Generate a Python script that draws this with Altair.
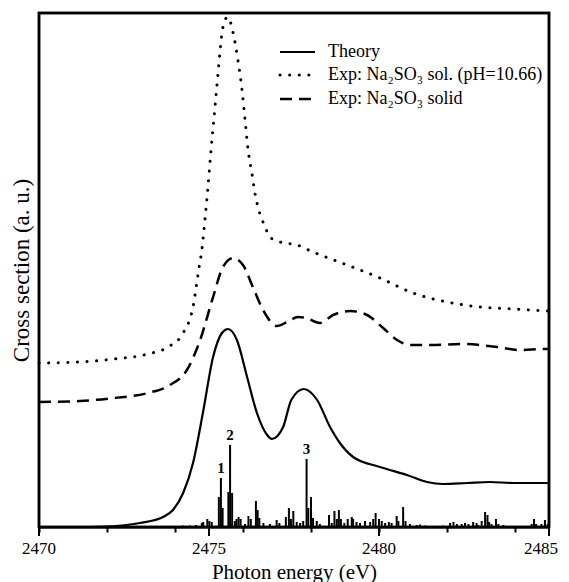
import altair as alt
import pandas as pd

# ---------------- data ----------------
theory_ev = [2470.0, 2471.0, 2471.99, 2472.97, 2473.65, 2473.94, 2474.24, 2474.53, 2474.82,
             2475.12, 2475.38, 2475.56, 2475.82, 2476.12, 2476.41, 2476.71, 2476.85, 2477.18,
             2477.42, 2477.79, 2478.18, 2478.56, 2478.85, 2479.24, 2480.03, 2480.82, 2481.41,
             2481.88, 2482.59, 2483.26, 2483.94, 2485.0]
theory_val = [0, 0, 0.5, 4, 10, 17, 34, 64, 114,
              170, 194, 198, 187, 150, 114, 92, 88, 100,
              127, 138, 127, 100, 84, 70, 60, 52, 45,
              43, 44, 45, 44, 44]

solid_ev = [2470.0, 2471.2, 2472.2, 2473.2, 2473.85, 2474.35, 2474.74, 2475.12, 2475.41,
            2475.71, 2476.0, 2476.29, 2476.59, 2477.0, 2477.3, 2477.62, 2477.85, 2478.26,
            2478.65, 2479.15, 2479.65, 2480.12, 2480.53, 2480.91, 2481.5, 2482.47, 2482.97,
            2483.47, 2484.15, 2484.82, 2485.0]
solid_val = [125, 126, 129, 134, 142, 157, 187, 230, 260,
             269, 262, 240, 217, 201, 205, 210, 209, 204,
             212, 216, 212, 199, 187, 182, 182, 183, 182,
             180, 177, 178, 178]

sol_ev = [2470.0, 2471.2, 2472.2, 2473.2, 2473.85, 2474.24, 2474.53, 2474.71, 2474.79,
          2474.88, 2474.97, 2475.06, 2475.15, 2475.24, 2475.32, 2475.41, 2475.55, 2475.71,
          2475.85, 2475.97, 2476.06, 2476.15, 2476.26, 2476.35, 2476.44, 2476.65, 2476.79,
          2477.09, 2477.59, 2478.06, 2479.06, 2480.03, 2481.0, 2482.0, 2482.97, 2483.94, 2485.0]
sol_val = [164, 165, 168, 173, 181, 194, 220, 260, 277,
           307, 340, 377, 410, 444, 474, 500, 510, 494,
           467, 437, 407, 377, 354, 334, 320, 300, 290,
           285, 282, 275, 262, 249, 234, 225, 220, 218, 216]

stick_ev = [2474.03, 2474.24, 2474.44, 2474.62, 2474.79, 2474.83, 2474.95, 2475.01, 2475.08,
            2475.29, 2475.35, 2475.40, 2475.57, 2475.62, 2475.68, 2475.76, 2475.81, 2475.87,
            2475.93, 2476.06, 2476.16, 2476.23, 2476.38, 2476.43, 2476.48, 2476.60, 2476.79,
            2476.99, 2477.07, 2477.26, 2477.35, 2477.41, 2477.48, 2477.58, 2477.68, 2477.77,
            2477.87, 2477.92, 2478.00, 2478.06, 2478.17, 2478.26, 2478.53, 2478.61, 2478.69,
            2478.76, 2478.82, 2478.88, 2478.98, 2479.08, 2479.20, 2479.24, 2479.34, 2479.44,
            2479.59, 2479.74, 2479.83, 2479.90, 2480.00, 2480.08, 2480.18, 2480.29, 2480.37,
            2480.52, 2480.57, 2480.71, 2480.78, 2480.91, 2481.11, 2481.21, 2481.35, 2481.59,
            2481.88, 2482.09, 2482.19, 2482.29, 2482.43, 2482.53, 2482.63, 2482.77, 2482.87,
            2482.92, 2483.02, 2483.12, 2483.19, 2483.24, 2483.31, 2483.44, 2483.51, 2483.66,
            2483.85, 2484.05, 2484.24, 2484.49, 2484.56, 2484.62, 2484.78, 2484.88, 2484.96]
stick_val = [1, 1.5, 1.5, 2, 4, 5, 8, 6, 5,
             30, 49, 19, 35, 82, 34, 6, 8, 10,
             8, 3, 11, 8, 26, 17, 9, 4, 3,
             7, 4, 10, 19, 8, 16, 5, 4, 6,
             68, 19, 30, 9, 6, 3, 12, 4, 16,
             8, 17, 8, 4, 8, 10, 8, 5, 4,
             6, 5, 8, 14, 8, 6, 4, 5, 4,
             11, 6, 20, 6, 3, 2, 2.5, 1.5, 1,
             1.5, 4, 5, 3, 3, 4, 3, 5, 4,
             2, 6, 15, 12, 5, 3, 8, 3, 2,
             1, 1, 1, 3, 8, 3, 3, 7, 3]

peak_labels = ["1", "2", "3"]
peak_ev = [2475.35, 2475.62, 2477.87]
peak_val = [49, 82, 68]

legend_labels = ["Theory", "Exp: Na\u2082SO\u2083 sol. (pH=10.66)", "Exp: Na\u2082SO\u2083 solid"]

minor_ticks = list(range(2470, 2486))
major_ticks = [2470, 2475, 2480, 2485]
axis_labels = ["2470", "2475", "2480", "2485"]

# ---------------- chart ----------------
W, H = 510, 514
FONT = "Liberation Serif"

xs = alt.Scale(domain=[2470, 2485], nice=False, zero=False)
ys = alt.Scale(domain=[0, 514], nice=False, zero=False)

x_axis = alt.Axis(
    values=minor_ticks, labels=False,
    tickSize=5, tickWidth=2, tickColor="black", domainColor="black", domainWidth=2,
    grid=False,
    title="Photon energy (eV)", titleFont=FONT, titleFontSize=21,
    titleFontWeight="normal", titleColor="black", titlePadding=28,
)
y_axis = alt.Axis(
    labels=False, ticks=False, domain=False, grid=False,
    title="Cross section (a. u.)", titleFont=FONT, titleFontSize=23,
    titleFontWeight="normal", titleColor="black", titlePadding=6,
)

df_theory = pd.DataFrame({"ev": theory_ev, "v": theory_val})
df_solid = pd.DataFrame({"ev": solid_ev, "v": solid_val})
df_sol = pd.DataFrame({"ev": sol_ev, "v": sol_val})
df_stick = pd.DataFrame({"ev": stick_ev, "v": stick_val})
df_peak = pd.DataFrame({"ev": peak_ev, "v": peak_val, "t": peak_labels})
df_major = pd.DataFrame({"ev": major_ticks, "t": axis_labels})

frame = alt.Chart(pd.DataFrame({"k": [0]})).mark_rect(
    fill=None, stroke="black", strokeWidth=2.5
).encode(x=alt.value(0), x2=alt.value(W), y=alt.value(0), y2=alt.value(H))

sticks = alt.Chart(df_stick).mark_rule(color="black", strokeWidth=2).encode(
    x=alt.X("ev:Q", scale=xs, axis=x_axis),
    y=alt.Y("v:Q", scale=ys, axis=y_axis),
    y2=alt.datum(0),
)

major = alt.Chart(df_major).mark_rule(color="black", strokeWidth=2).encode(
    x=alt.X("ev:Q", scale=xs), y=alt.value(H), y2=alt.value(H + 9)
)

tick_labels = alt.Chart(df_major.iloc[:3]).mark_text(
    font=FONT, fontSize=17, color="black", baseline="top"
).encode(x=alt.X("ev:Q", scale=xs), y=alt.value(H + 14), text="t:N")

last_label = alt.Chart(df_major.iloc[[3]]).mark_text(
    font=FONT, fontSize=17, color="black", baseline="top", dx=-8
).encode(x=alt.X("ev:Q", scale=xs), y=alt.value(H + 14), text="t:N")

theory = alt.Chart(df_theory).mark_line(
    color="black", strokeWidth=2.2, interpolate="monotone"
).encode(x=alt.X("ev:Q", scale=xs), y=alt.Y("v:Q", scale=ys))

solid = alt.Chart(df_solid).mark_line(
    color="black", strokeWidth=2.5, strokeDash=[12, 7], interpolate="monotone"
).encode(x=alt.X("ev:Q", scale=xs), y=alt.Y("v:Q", scale=ys))

sol = alt.Chart(df_sol).mark_line(
    color="black", strokeWidth=3, strokeDash=[0.1, 9.5], strokeCap="round",
    interpolate="monotone"
).encode(x=alt.X("ev:Q", scale=xs), y=alt.Y("v:Q", scale=ys))

peaks = alt.Chart(df_peak).mark_text(
    font=FONT, fontSize=15, fontWeight="bold", color="black", baseline="bottom", dy=-2
).encode(x=alt.X("ev:Q", scale=xs), y=alt.Y("v:Q", scale=ys), text="t:N")

# legend
one = pd.DataFrame({"k": [0]})
leg_y = [39, 62, 86]
lx1, lx2, tx = 241, 276, 289
leg_styles = [
    dict(strokeWidth=2.2),
    dict(strokeWidth=3, strokeDash=[0.1, 9.5], strokeCap="round"),
    dict(strokeWidth=2.5, strokeDash=[12, 7]),
]
legend_layers = []
for lab, yy, st in zip(legend_labels, leg_y, leg_styles):
    legend_layers.append(
        alt.Chart(one).mark_rule(color="black", **st).encode(
            x=alt.value(lx1), x2=alt.value(lx2), y=alt.value(yy)
        )
    )
    legend_layers.append(
        alt.Chart(one).mark_text(
            font=FONT, fontSize=18, color="black", align="left", baseline="middle", text=lab
        ).encode(x=alt.value(tx), y=alt.value(yy))
    )

chart = alt.layer(
    sticks, major, tick_labels, last_label, theory, solid, sol, peaks, frame, *legend_layers
).properties(
    width=W, height=H,
    background="white",
    autosize=alt.AutoSizeParams(type="none"),
    padding={"left": 31, "top": 5, "right": 12, "bottom": 60},
).configure_view(
    stroke="black", strokeWidth=2.5
)

chart.save("out.html", embed_options={"renderer": "svg", "actions": False})
